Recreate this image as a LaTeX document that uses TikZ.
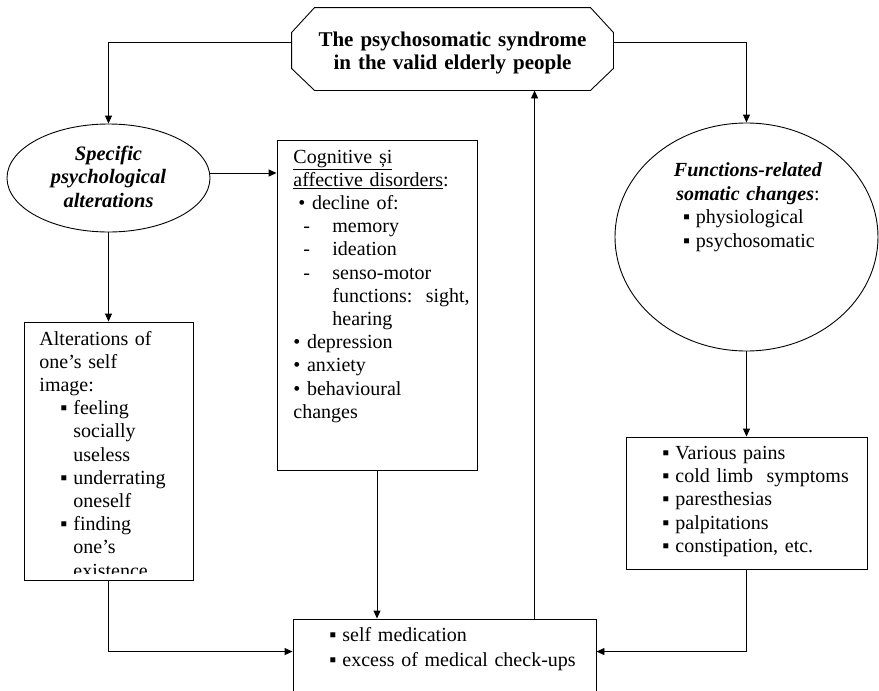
\documentclass[tikz,border=0pt]{standalone}
\usepackage{fontspec}
\setmainfont{Liberation Serif}
\usetikzlibrary{shapes.geometric, arrows.meta}
\tikzstyle{arrow} = [-{Triangle[length=8pt,width=7pt]}]
\tikzstyle{box} = [draw, rectangle, inner sep=0pt]
\tikzstyle{oval} = [draw, ellipse, inner sep=0pt]
\tikzstyle{txt} = [inner sep=0pt, anchor=base west, align=left, text width=300pt, font=\fontsize{20}{23.2}\selectfont]
\tikzstyle{ctxt} = [inner sep=0pt, anchor=base, align=center, text width=300pt, font=\fontsize{20.5}{23.5}\selectfont]
\newcommand{\sqb}{\makebox[13pt][l]{▪}}

\begin{document}
\begin{tikzpicture}[x=1pt, y=-1pt, line width=0.9pt]
    \clip (0,0) rectangle (879,691);
    % title
    \node[inner sep=0pt, minimum width=321pt, minimum height=82pt] (top) at (452.5,49) {};
    \draw ([xshift=23pt]top.north west) -- ([xshift=-23pt]top.north east) -- ([yshift=-25pt]top.north east)
        -- ([yshift=22pt]top.south east) -- ([xshift=-23pt]top.south east) -- ([xshift=23pt]top.south west)
        -- ([yshift=22pt]top.south west) -- ([yshift=-25pt]top.north west) -- cycle;
    \node[ctxt, font=\fontsize{21}{23}\selectfont\bfseries] (toptxt) at (452.5,46.5) {The psychosomatic syndrome\\in the valid elderly people};
    % left branch
    \node[oval, minimum width=203pt, minimum height=108pt] (spec) at (108.5,178) {};
    \node[ctxt, font=\fontsize{20.5}{23.5}\selectfont\bfseries\itshape] (spectxt) at (108.5,160) {Specific\\psychological\\alterations};
    \node[box, minimum width=169pt, minimum height=258pt] (alt) at (108.5,451) {};
    \begin{scope}
        \clip (24,322) rectangle (193,573);
        \node[txt] (alttxt) at (39,345) {Alterations of\\
            one’s self\\
            image:\\
            \hspace*{21pt}\sqb feeling\\
            \hspace*{34pt}socially\\
            \hspace*{34pt}useless\\
            \hspace*{21pt}\sqb underrating\\
            \hspace*{34pt}oneself\\
            \hspace*{21pt}\sqb finding\\
            \hspace*{34pt}one’s\\
            \hspace*{34pt}existence};
    \end{scope}
    % middle
    \node[box, minimum width=200pt, minimum height=330pt] (cog) at (377,305) {};
    \node[txt] (cogtxt) at (293,163) {\underline{Cognitive și}\\
        \underline{affective disorders}:\\
        \hspace*{5pt}•~decline of:\\
        \hspace*{10pt}\makebox[29pt][l]{-}memory\\
        \hspace*{10pt}\makebox[29pt][l]{-}ideation\\
        \hspace*{10pt}\makebox[29pt][l]{-}senso-motor\\
        \hspace*{39pt}functions:~~sight,\\
        \hspace*{39pt}hearing\\
        •~depression\\
        •~anxiety\\
        •~behavioural\\
        changes};
    % right branch
    \node[oval, minimum width=263pt, minimum height=228pt] (soma) at (746.5,237) {};
    \node[ctxt, font=\fontsize{20}{23.7}\selectfont] (somatxt) at (748,176.5) {\textbf{\textit{Functions-related}}\\
        \textbf{\textit{somatic changes}}:\\
        \makebox[130pt][l]{\sqb physiological}\\
        \makebox[130pt][l]{\sqb psychosomatic}};
    \node[box, minimum width=241pt, minimum height=132pt] (rbox) at (746.5,503) {};
    \node[txt] (rtxt) at (662,459.5) {\sqb Various pains\\
        \sqb cold limb~~symptoms\\
        \sqb paresthesias\\
        \sqb palpitations\\
        \sqb constipation, etc.};
    % bottom
    \node[box, minimum width=303pt, minimum height=101pt] (med) at (444.5,669.5) {};
    \node[txt, font=\fontsize{20}{24.5}\selectfont] (medtxt) at (329,641.5) {\sqb self medication\\
        \sqb excess of medical check-ups};
    % connectors
    \coordinate (sp) at ([yshift=5pt]spec.east);
    \coordinate (inl) at ([yshift=-33pt]med.north west);
    \coordinate (inr) at ([yshift=-33pt]med.north east);
    \coordinate (up) at ([xshift=242pt]med.north west);
    \draw[arrow] ([yshift=7pt]top.west) -| (spec.north);
    \draw[arrow] ([yshift=7pt]top.east) -| (soma.north);
    \draw[arrow] (sp) -- (sp -| cog.west);
    \draw[arrow] (spec) -- (alt);
    \draw[arrow] (alt.south) |- (inl);
    \draw[arrow] (cog.south) -- (cog.south |- med.north);
    \draw[arrow] (up) -- (up |- top.south);
    \draw[arrow] (soma) -- (rbox);
    \draw[arrow] (rbox.south) |- (inr);
\end{tikzpicture}
\end{document}
